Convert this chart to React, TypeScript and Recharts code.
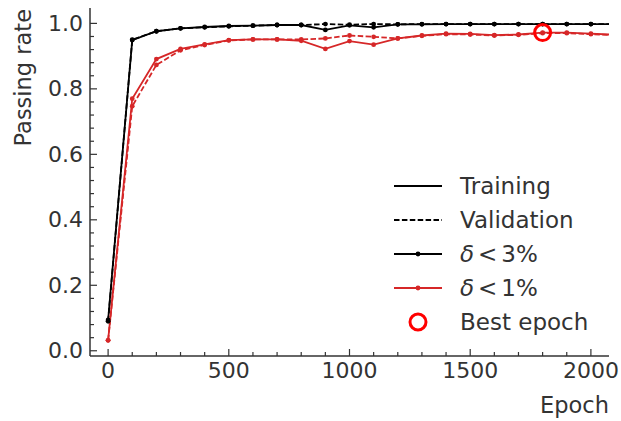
import React from 'react';
import { ComposedChart, Line, XAxis, YAxis, Legend } from 'recharts';

const epochs = [0, 100, 200, 300, 400, 500, 600, 700, 800, 900, 1000, 1100, 1200, 1300, 1400, 1500, 1600, 1700, 1800, 1900, 2000, 2100];
const train3 = [0.094, 0.949, 0.976, 0.985, 0.989, 0.992, 0.993, 0.995, 0.995, 0.98, 0.994, 0.988, 0.997, 0.997, 0.998, 0.998, 0.998, 0.998, 0.998, 0.998, 0.998, 0.998];
const val3 = [0.09, 0.95, 0.976, 0.985, 0.988, 0.991, 0.993, 0.995, 0.995, 0.998, 0.996, 0.998, 0.997, 0.998, 0.998, 0.998, 0.998, 0.998, 0.998, 0.998, 0.998, 0.998];
const train1 = [0.032, 0.77, 0.891, 0.922, 0.936, 0.949, 0.951, 0.951, 0.947, 0.922, 0.946, 0.935, 0.954, 0.963, 0.969, 0.968, 0.964, 0.966, 0.972, 0.972, 0.969, 0.965];
const val1 = [0.032, 0.747, 0.873, 0.918, 0.934, 0.948, 0.951, 0.951, 0.951, 0.954, 0.963, 0.959, 0.954, 0.962, 0.967, 0.966, 0.963, 0.965, 0.97, 0.97, 0.967, 0.964];
const bestEpoch = [{ epoch: 1800, rate: 0.972 }];

const xTicks = [0, 100, 200, 300, 400, 500, 600, 700, 800, 900, 1000, 1100, 1200, 1300, 1400, 1500, 1600, 1700, 1800, 1900, 2000];
const xMajor = [0, 500, 1000, 1500, 2000];
const yTicks = [0, 0.04, 0.08, 0.12, 0.16, 0.2, 0.24, 0.28, 0.32, 0.36, 0.4, 0.44, 0.48, 0.52, 0.56, 0.6, 0.64, 0.68, 0.72, 0.76, 0.8, 0.84, 0.88, 0.92, 0.96, 1.0];
const yMajor = [0, 0.2, 0.4, 0.6, 0.8, 1.0];

const data = epochs.map((epoch, i) => ({ epoch, train3: train3[i], val3: val3[i], train1: train1[i], val1: val1[i] }));

const INK = '#333';
const RED = '#d62728';
const FONT = 'DejaVu Sans, sans-serif';
const DASH = '5.5 2.4';

const isMajor = (v: number, majors: number[]) => majors.some((m) => Math.abs(m - v) < 1e-6);

const makeTick = (side: 'bottom' | 'top' | 'left' | 'right') => (props: any) => {
  const { x, y, payload } = props;
  const v = payload.value;
  const major = side === 'bottom' || side === 'top' ? isMajor(v, xMajor) : isMajor(v, yMajor);
  const len = major ? 7 : 4;
  let line;
  if (side === 'bottom') line = <line x1={x} x2={x} y1={y} y2={y - len} stroke={INK} strokeWidth={1.2} />;
  else if (side === 'top') line = <line x1={x} x2={x} y1={y} y2={y + len} stroke={INK} strokeWidth={1.2} />;
  else if (side === 'left') line = <line x1={x} x2={x + len} y1={y} y2={y} stroke={INK} strokeWidth={1.2} />;
  else line = <line x1={x} x2={x - len} y1={y} y2={y} stroke={INK} strokeWidth={1.2} />;
  return (
    <g>
      {line}
      {major && side === 'bottom' && (
        <text x={x} y={y + 22} textAnchor="middle" fill={INK} fontSize={22} fontFamily={FONT}>{v}</text>
      )}
      {major && side === 'left' && (
        <text x={x - 7} y={y} textAnchor="end" dominantBaseline="central" fill={INK} fontSize={22} fontFamily={FONT}>{v.toFixed(1)}</text>
      )}
    </g>
  );
};

const legendItems = [
  { label: 'Training', color: '#000', dash: undefined as string | undefined, dot: false, ring: false },
  { label: 'Validation', color: '#000', dash: DASH, dot: false, ring: false },
  { label: '3%', color: '#000', dash: undefined, dot: true, ring: false },
  { label: '1%', color: RED, dash: undefined, dot: true, ring: false },
  { label: 'Best epoch', color: '#ff0000', dash: undefined, dot: false, ring: true },
];

const renderLegend = () => (
  <svg width={230} height={170} style={{ display: 'block' }}>
    {legendItems.map((item, i) => {
      const cy = 16 + i * 34;
      const delta = item.label.endsWith('%');
      return (
        <g key={item.label}>
          {!item.ring && (
            <line x1={9} x2={57} y1={cy} y2={cy} stroke={item.color} strokeWidth={1.8} strokeDasharray={item.dash} />
          )}
          {item.dot && <circle cx={33} cy={cy} r={2.4} fill={item.color} />}
          {item.ring && <circle cx={33} cy={cy} r={8} fill="none" stroke={item.color} strokeWidth={3} />}
          <text x={75} y={cy} dominantBaseline="central" fill={INK} fontSize={23} fontFamily={FONT}>
            {delta ? (
              <>
                <tspan fontStyle="italic">δ</tspan>
                <tspan dx={4}>&lt;</tspan>
                <tspan dx={4}>{item.label}</tspan>
              </>
            ) : (
              item.label
            )}
          </text>
        </g>
      );
    })}
  </svg>
);

const dotStyle = (color: string) => ({ r: 2.4, fill: color, stroke: color, strokeWidth: 0 });

const BestRing = (props: any) => {
  const { cx, cy } = props;
  return <circle cx={cx} cy={cy} r={8} fill="none" stroke="#ff0000" strokeWidth={3} />;
};

export default function App() {
  return (
    <div style={{ position: 'absolute', left: 0, top: 0, width: 621, height: 421, background: '#fff' }}>
      <ComposedChart width={621} height={421} data={data} margin={{ top: 8, right: 12, bottom: 0, left: 0 }}>
        <XAxis
          dataKey="epoch"
          type="number"
          domain={[-75, 2075]}
          allowDataOverflow
          ticks={xTicks}
          interval={0}
          height={65}
          tickSize={0}
          tickMargin={0}
          tick={makeTick('bottom')}
          axisLine={{ stroke: INK, strokeWidth: 1.5 }}
          label={{
            content: (p: any) => {
              const vb = p.viewBox;
              return (
                <text x={vb.x + vb.width} y={vb.y + 57} textAnchor="end" fill={INK} fontSize={22.5} fontFamily={FONT}>
                  Epoch
                </text>
              );
            },
          }}
        />
        <XAxis
          xAxisId="top"
          orientation="top"
          dataKey="epoch"
          type="number"
          domain={[-75, 2075]}
          allowDataOverflow
          ticks={xTicks}
          interval={0}
          height={0}
          tickSize={0}
          tickMargin={0}
          tick={makeTick('top')}
          axisLine={{ stroke: INK, strokeWidth: 1.5 }}
        />
        <YAxis
          type="number"
          domain={[-0.016, 1.047]}
          allowDataOverflow
          ticks={yTicks}
          interval={0}
          width={90}
          tickSize={0}
          tickMargin={0}
          tick={makeTick('left')}
          axisLine={{ stroke: INK, strokeWidth: 1.5 }}
          label={{
            content: (p: any) => {
              const vb = p.viewBox;
              return (
                <text
                  x={vb.x + 23}
                  y={vb.y + 1}
                  transform={`rotate(-90, ${vb.x + 23}, ${vb.y + 1})`}
                  textAnchor="end"
                  dominantBaseline="central"
                  fill={INK}
                  fontSize={22.5}
                  fontFamily={FONT}
                >
                  Passing rate
                </text>
              );
            },
          }}
        />
        <YAxis
          yAxisId="right"
          orientation="right"
          type="number"
          domain={[-0.016, 1.047]}
          allowDataOverflow
          ticks={yTicks}
          interval={0}
          width={0}
          tickSize={0}
          tickMargin={0}
          tick={makeTick('right')}
          axisLine={{ stroke: INK, strokeWidth: 1.5 }}
        />
        <Legend
          layout="horizontal"
          verticalAlign="middle"
          align="center"
          content={renderLegend}
          wrapperStyle={{ left: 385, top: 170, width: 230, height: 170 }}
        />
        <Line type="linear" dataKey="train3" stroke="#000" strokeWidth={1.8} dot={dotStyle('#000')} activeDot={false} isAnimationActive={false} />
        <Line type="linear" dataKey="val3" stroke="#000" strokeWidth={1.8} strokeDasharray={DASH} dot={dotStyle('#000')} activeDot={false} isAnimationActive={false} />
        <Line type="linear" dataKey="train1" stroke={RED} strokeWidth={1.8} dot={dotStyle(RED)} activeDot={false} isAnimationActive={false} />
        <Line type="linear" dataKey="val1" stroke={RED} strokeWidth={1.8} strokeDasharray={DASH} dot={dotStyle(RED)} activeDot={false} isAnimationActive={false} />
        <Line data={bestEpoch} type="linear" dataKey="rate" stroke="none" dot={<BestRing />} activeDot={false} isAnimationActive={false} />
      </ComposedChart>
    </div>
  );
}
